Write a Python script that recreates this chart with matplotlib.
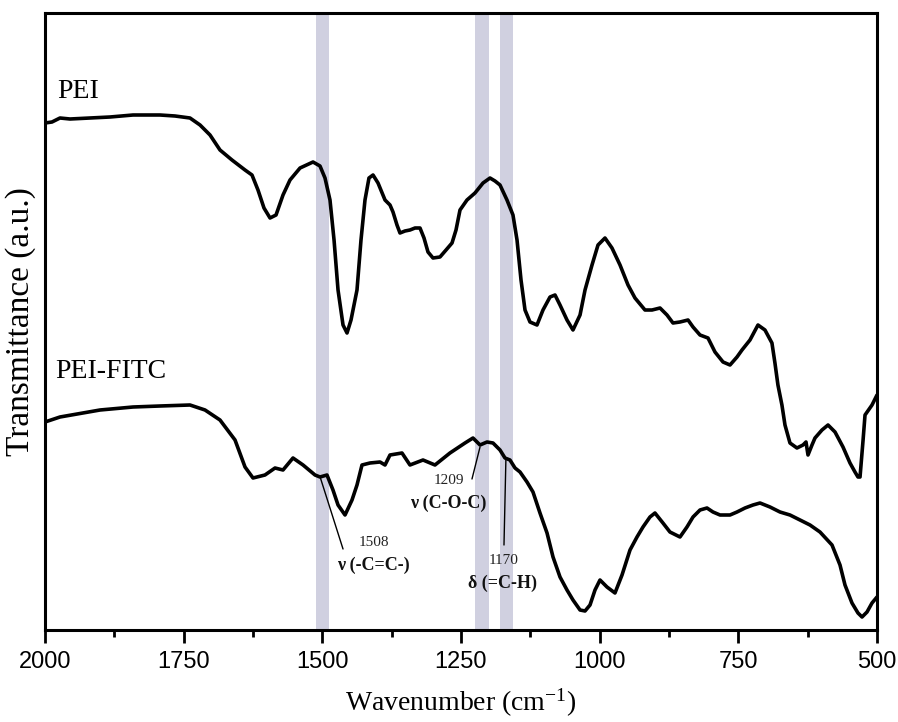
import matplotlib
matplotlib.use("Agg")
import matplotlib.pyplot as plt
from matplotlib.ticker import MultipleLocator

plt.rcParams['mathtext.fontset'] = 'custom'
plt.rcParams['mathtext.rm'] = 'Liberation Serif'
plt.rcParams['mathtext.it'] = 'Liberation Serif:italic'

# ---- data (wavenumber in cm-1, transmittance in arbitrary units) ----
pei_wn = [2000, 1987.4, 1973.0, 1954.9, 1918.9, 1882.8, 1841.3, 1792.7, 1765.6, 1738.6,
          1720.5, 1702.5, 1684.5, 1662.9, 1639.4, 1626.8, 1616.0, 1605.2, 1594.3, 1583.5,
          1570.9, 1558.3, 1540.2, 1516.8, 1504.2, 1495.2, 1486.2, 1478.9, 1471.7, 1462.7,
          1455.5, 1448.3, 1437.5, 1430.3, 1423.1, 1415.9, 1408.6, 1399.6, 1387.0, 1378.0,
          1372.6, 1365.4, 1360.0, 1351.0, 1342.0, 1332.9, 1323.9, 1316.7, 1309.5, 1300.5,
          1287.9, 1277.0, 1266.2, 1259.0, 1251.8, 1239.2, 1224.8, 1210.3, 1197.7, 1188.7,
          1179.7, 1167.1, 1156.3, 1149.0, 1141.8, 1134.6, 1125.6, 1113.0, 1102.2, 1089.5,
          1080.5, 1071.5, 1058.9, 1048.1, 1035.4, 1026.4, 1013.8, 1003.0, 990.4, 977.8,
          963.3, 948.9, 936.3, 918.3, 905.6, 891.2, 878.6, 867.8, 855.2, 840.7,
          831.7, 819.1, 804.7, 792.1, 777.6, 765.0, 752.4, 743.4, 729.0, 714.6,
          702.0, 689.4, 684.0, 678.6, 671.4, 665.9, 656.9, 644.3, 633.4, 628.0,
          624.4, 617.2, 611.8, 599.2, 588.3, 575.7, 561.3, 548.7, 539.7, 534.3,
          530.6, 525.1, 521.6, 509.0, 500.0]
pei_t = [507, 508, 512, 511, 512, 513, 515, 515, 514, 512,
         505, 495, 480, 470, 460, 455, 440, 422, 412, 415,
         435, 450, 462, 468, 464, 452, 430, 390, 340, 305,
         297, 310, 340, 390, 430, 452, 455, 447, 430, 425,
         418, 405, 397, 399, 400, 402, 402, 392, 378, 372,
         373, 380, 387, 400, 420, 430, 437, 447, 452, 449,
         445, 430, 415, 390, 350, 320, 308, 305, 320, 333,
         335, 325, 310, 300, 315, 340, 365, 385, 392, 382,
         365, 345, 332, 320, 320, 322, 315, 307, 308, 310,
         303, 295, 292, 278, 268, 265, 273, 280, 290, 305,
         300, 287, 267, 245, 225, 205, 187, 182, 185, 188,
         175, 185, 192, 200, 205, 198, 183, 167, 158, 153,
         153, 190, 215, 225, 235]

fitc_wn = [2000, 1973.0, 1900.8, 1841.3, 1792.7, 1738.6, 1711.5, 1684.5, 1657.4, 1639.4,
           1625.0, 1603.4, 1585.3, 1570.9, 1552.9, 1534.8, 1513.2, 1504.2, 1491.6, 1480.8,
           1471.7, 1459.1, 1446.5, 1437.5, 1428.5, 1414.1, 1396.0, 1387.0, 1378.0, 1356.4,
           1342.0, 1318.5, 1296.9, 1269.9, 1242.8, 1228.4, 1215.7, 1203.1, 1192.3, 1179.7,
           1170.7, 1161.7, 1152.6, 1143.6, 1131.0, 1120.2, 1107.6, 1094.9, 1084.1, 1071.5,
           1058.9, 1048.1, 1035.4, 1026.4, 1017.4, 1008.4, 999.4, 986.8, 972.4, 959.7,
           945.3, 932.7, 921.9, 909.3, 900.3, 885.9, 873.3, 855.2, 842.6, 831.7,
           819.1, 806.5, 795.7, 783.0, 765.0, 752.4, 738.0, 723.6, 710.9, 692.9,
           674.9, 656.9, 638.8, 620.8, 602.8, 581.1, 566.7, 557.7, 545.1, 534.3,
           527.0, 518.0, 509.0, 500.0]
fitc_t = [208, 213, 220, 223, 224, 225, 220, 210, 190, 163,
          152, 155, 162, 160, 172, 165, 155, 153, 155, 140,
          125, 115, 130, 145, 165, 167, 168, 165, 175, 177,
          165, 170, 165, 177, 187, 192, 185, 188, 187, 180,
          172, 170, 162, 158, 148, 138, 117, 97, 73, 53,
          40, 30, 20, 19, 25, 40, 50, 43, 37, 55,
          80, 93, 103, 113, 117, 107, 98, 93, 103, 113,
          120, 122, 118, 115, 115, 118, 122, 125, 127, 123,
          118, 115, 110, 105, 98, 85, 65, 45, 27, 17,
          13, 18, 27, 33]

band_ranges = [(1512, 1488), (1225, 1200), (1180, 1156)]
peak_labels = ["1508", "1209", "1170"]
mode_labels = ["ν (-C=C-)", "ν (C-O-C)", "δ (=C-H)"]
xticks = [2000, 1750, 1500, 1250, 1000, 750, 500]

# ---- figure ----
fig = plt.figure(figsize=(8.98, 7.22), dpi=100)
ax = fig.add_axes([45/898, 92/722, 832/898, 617/722])

for lo, hi in band_ranges:
    ax.axvspan(hi, lo, color='#d0d0e0', lw=0, zorder=0)

ax.plot(pei_wn, pei_t, color='black', lw=2.6, solid_joinstyle='round',
        solid_capstyle='round', zorder=3)
ax.plot(fitc_wn, fitc_t, color='black', lw=2.6, solid_joinstyle='round',
        solid_capstyle='round', zorder=3)

ax.set_xlim(2000, 500)
ax.set_ylim(0, 617)
ax.set_xticks(xticks)
ax.set_xticklabels([str(t) for t in xticks], fontfamily='Liberation Sans', fontsize=17)
ax.xaxis.set_minor_locator(MultipleLocator(125))
ax.tick_params(axis='x', which='major', direction='out', length=9, width=2, pad=6)
ax.tick_params(axis='x', which='minor', direction='out', length=5, width=2)
ax.set_yticks([])
for s in ax.spines.values():
    s.set_linewidth(2.2)

ax.set_xlabel(r'Wavenumber (cm$^{\mathregular{-1}}$)', fontfamily='Liberation Serif',
              fontsize=20, labelpad=10)
ax.set_ylabel('Transmittance (a.u.)', fontfamily='Liberation Serif', fontsize=24)
ax.yaxis.set_label_coords(-0.011, 0.5)

ax.text(1978, 532, 'PEI', fontfamily='Liberation Serif', fontsize=20, va='baseline', ha='left')
ax.text(1982, 252, 'PEI-FITC', fontfamily='Liberation Serif', fontsize=20, va='baseline', ha='left')

# annotations
ann = [
    ((1504, 153), (1462.7, 81), (1406.8, 87), (1408.6, 65)),
    ((1215.7, 183), (1230.2, 151), (1271.6, 150), (1273.4, 127)),
    ((1169, 172), (1172.5, 85), (1172.5, 70), (1174.3, 47)),
]
for (p0, p1, t1, t2), num, mode in zip(ann, peak_labels, mode_labels):
    ax.annotate('', xy=p0, xytext=p1,
                arrowprops=dict(arrowstyle='-', color='black', lw=1.0, shrinkA=0, shrinkB=0))
    ax.text(t1[0], t1[1], num, fontfamily='Liberation Serif', fontsize=11,
            ha='center', va='center', color='#222222')
    ax.text(t2[0], t2[1], mode, fontfamily='Liberation Serif', fontsize=13,
            fontweight='bold', ha='center', va='center', color='#111111')

fig.savefig('out.png', dpi=100)
